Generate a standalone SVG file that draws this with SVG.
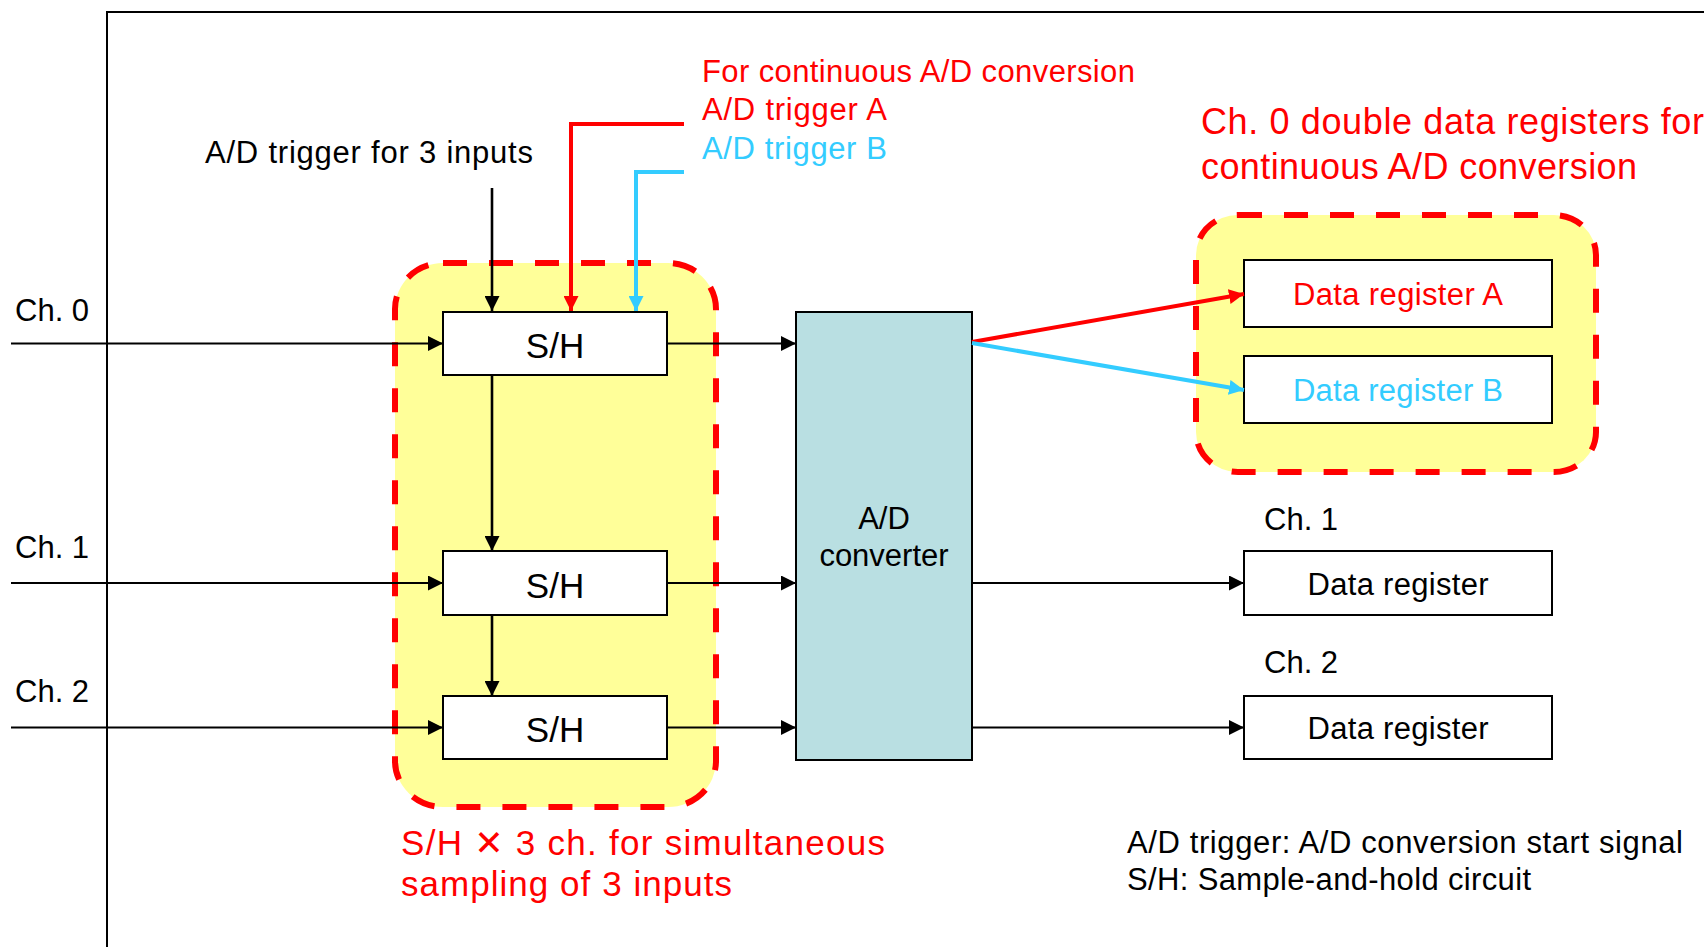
<svg xmlns="http://www.w3.org/2000/svg" width="1704" height="947" viewBox="0 0 1704 947">
<defs>
<style>
text{font-family:"Liberation Sans",Arial,sans-serif;font-size:31px;fill:#000}
.f35{font-size:35px}
.f36{font-size:36px}
.red{fill:#ff0000}
.blue{fill:#33ccff}
.c{text-anchor:middle}
.box{fill:#fff;stroke:#000;stroke-width:2}
.grp{fill:#ffff99;stroke:#ff0000;stroke-width:6;stroke-dasharray:24 22}
.ln{fill:none;stroke:#000;stroke-width:2}
.lv{fill:none;stroke:#000;stroke-width:2.6}
.lr{fill:none;stroke:#ff0000;stroke-width:4}
.lb{fill:none;stroke:#33ccff;stroke-width:4}
.x{font-family:"DejaVu Sans",sans-serif;font-weight:bold}
</style>
<marker id="ab" markerUnits="userSpaceOnUse" markerWidth="15" markerHeight="15" refX="15" refY="7.5" orient="auto"><path d="M0,0 L15,7.5 L0,15 z" fill="#000"/></marker>
<marker id="ar" markerUnits="userSpaceOnUse" markerWidth="15" markerHeight="15" refX="15" refY="7.5" orient="auto"><path d="M0,0 L15,7.5 L0,15 z" fill="#ff0000"/></marker>
<marker id="abl" markerUnits="userSpaceOnUse" markerWidth="15" markerHeight="15" refX="15" refY="7.5" orient="auto"><path d="M0,0 L15,7.5 L0,15 z" fill="#33ccff"/></marker>
</defs>
<rect width="1704" height="947" fill="#fff"/>
<path id="frame" d="M107,947 V12 H1704" fill="none" stroke="#000" stroke-width="2"/>

<g id="group-sh">
<rect class="grp" x="395" y="263" width="321" height="544" rx="48" ry="46"/>
<text class="red f35" x="401" y="855" textLength="484">S/H <tspan class="x">✕</tspan> 3 ch. for simultaneous</text>
<text class="red f35" x="401" y="896" textLength="331">sampling of 3 inputs</text>
</g>
<g id="group-dr">
<rect class="grp" x="1196" y="215" width="400" height="257" rx="42" ry="40"/>
<text class="red f36" x="1201" y="134" textLength="503">Ch. 0 double data registers for</text>
<text class="red f36" x="1201" y="179" textLength="436">continuous A/D conversion</text>
</g>

<g id="sh0"><rect class="box" x="443" y="312" width="224" height="63"/><text class="c f35" x="555" y="358">S/H</text></g>
<g id="sh1"><rect class="box" x="443" y="551" width="224" height="64"/><text class="c f35" x="555" y="598">S/H</text></g>
<g id="sh2"><rect class="box" x="443" y="696" width="224" height="63"/><text class="c f35" x="555" y="742">S/H</text></g>

<g id="adc"><rect x="796" y="312" width="176" height="448" fill="#b9dfe2" stroke="#000" stroke-width="2"/>
<text class="c" x="884" y="529">A/D</text><text class="c" x="884" y="566">converter</text></g>

<g id="dra"><rect class="box" x="1244" y="260" width="308" height="67"/><text class="c red" x="1398" y="305" textLength="210">Data register A</text></g>
<g id="drb"><rect class="box" x="1244" y="356" width="308" height="67"/><text class="c blue" x="1398" y="401" textLength="210">Data register B</text></g>
<g id="dr1"><rect class="box" x="1244" y="551" width="308" height="64"/><text class="c" x="1398" y="595" textLength="181">Data register</text><text x="1264" y="530">Ch. 1</text></g>
<g id="dr2"><rect class="box" x="1244" y="696" width="308" height="63"/><text class="c" x="1398" y="739" textLength="181">Data register</text><text x="1264" y="673">Ch. 2</text></g>

<g id="labels">
<text x="15" y="321">Ch. 0</text>
<text x="15" y="558">Ch. 1</text>
<text x="15" y="702">Ch. 2</text>
<text x="205" y="163" textLength="328">A/D trigger for 3 inputs</text>
<text class="red" x="702" y="82" textLength="433">For continuous A/D conversion</text>
<text class="red" x="702" y="120" textLength="185">A/D trigger A</text>
<text class="blue" x="702" y="159" textLength="185">A/D trigger B</text>
<text x="1127" y="853" textLength="556">A/D trigger: A/D conversion start signal</text>
<text x="1127" y="890" textLength="404">S/H: Sample-and-hold circuit</text>
</g>

<g id="connectors">
<line class="ln" x1="11" y1="343.5" x2="443" y2="343.5" marker-end="url(#ab)"/>
<line class="ln" x1="11" y1="583" x2="443" y2="583" marker-end="url(#ab)"/>
<line class="ln" x1="11" y1="727.5" x2="443" y2="727.5" marker-end="url(#ab)"/>
<line class="ln" x1="667" y1="343.5" x2="796" y2="343.5" marker-end="url(#ab)"/>
<line class="ln" x1="667" y1="583" x2="796" y2="583" marker-end="url(#ab)"/>
<line class="ln" x1="667" y1="727.5" x2="796" y2="727.5" marker-end="url(#ab)"/>
<line class="ln" x1="972" y1="583" x2="1244" y2="583" marker-end="url(#ab)"/>
<line class="ln" x1="972" y1="727.5" x2="1244" y2="727.5" marker-end="url(#ab)"/>
<line class="lv" x1="492" y1="188" x2="492" y2="311" marker-end="url(#ab)"/>
<line class="lv" x1="492" y1="375" x2="492" y2="551" marker-end="url(#ab)"/>
<line class="lv" x1="492" y1="615" x2="492" y2="696" marker-end="url(#ab)"/>
<path class="lr" d="M684,124 H571 V311" marker-end="url(#ar)"/>
<path class="lb" d="M684,172 H636 V311" marker-end="url(#abl)"/>
<line class="lr" x1="972" y1="342" x2="1244" y2="294" marker-end="url(#ar)"/>
<line class="lb" x1="972" y1="343" x2="1244" y2="390" marker-end="url(#abl)"/>
</g>
</svg>
